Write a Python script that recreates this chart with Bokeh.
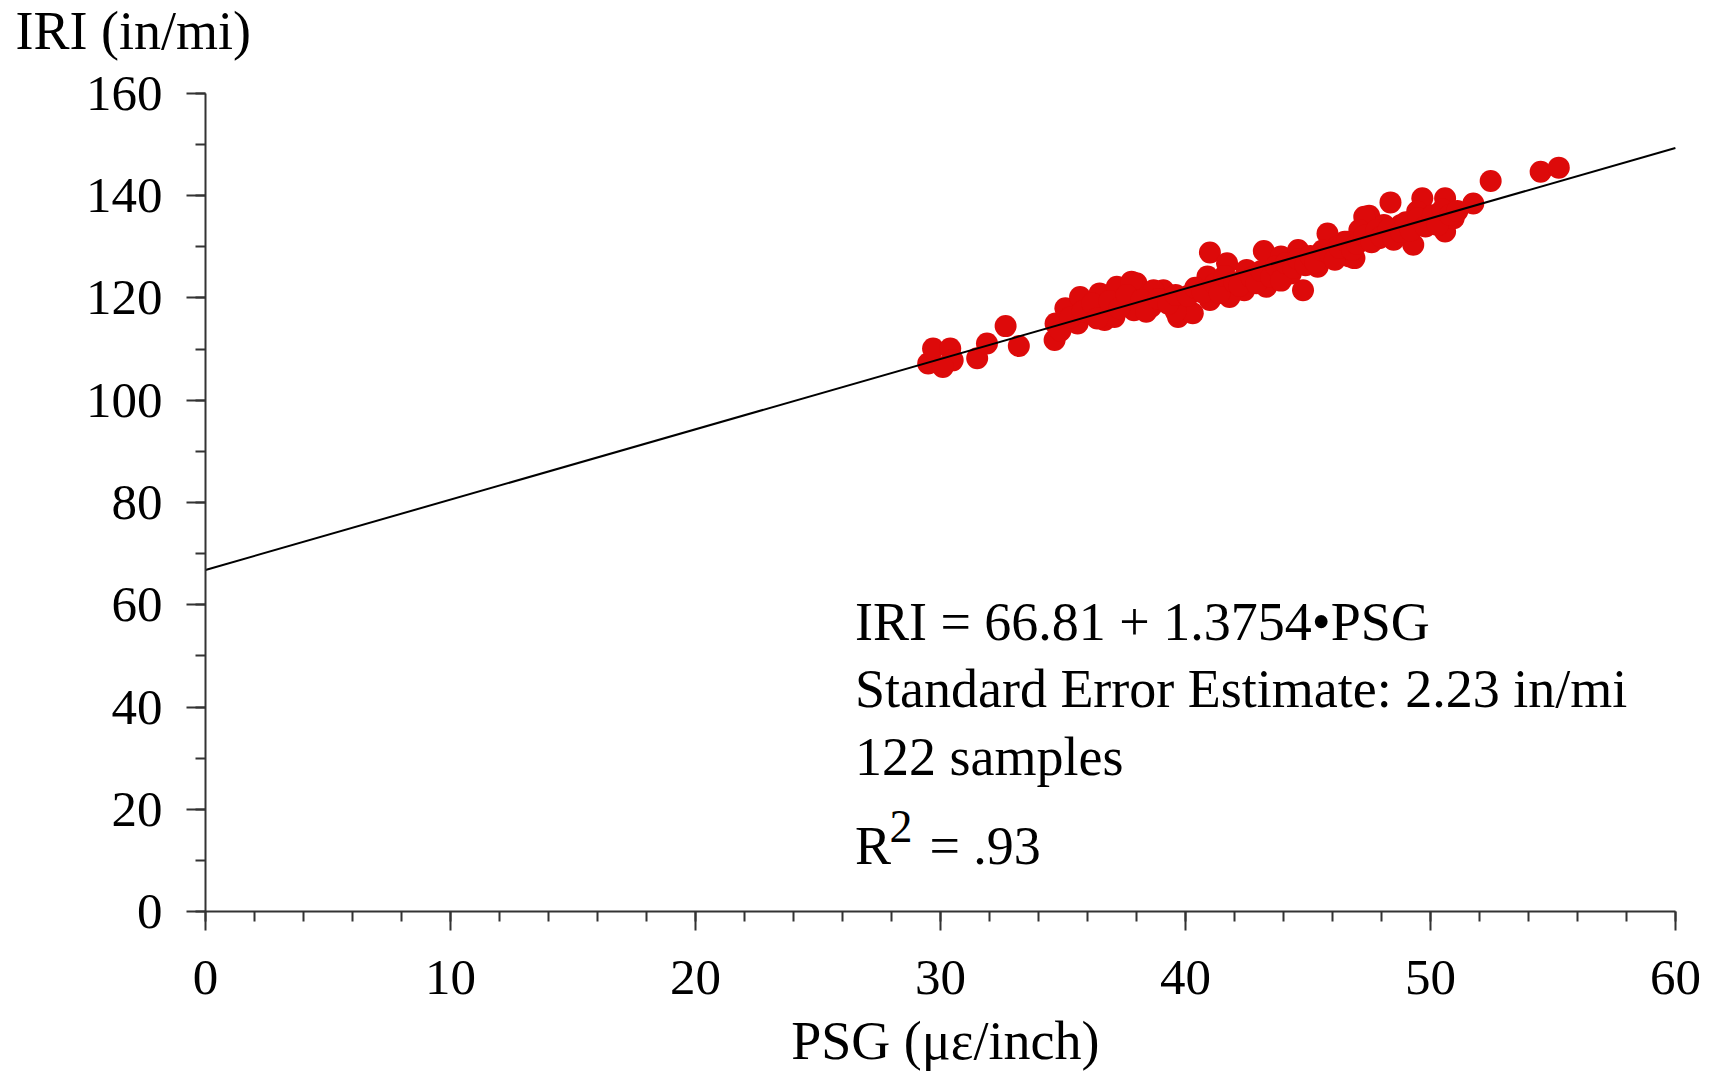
from bokeh.plotting import figure
from bokeh.models import Range1d, FixedTicker, Label
from bokeh.embed import file_html
from bokeh.resources import INLINE

# ---- data ----
psg = [52.46, 54.5, 55.24, 51.75, 50.6, 49.67, 48.37, 47.5, 50.6, 49.3,
       46.9, 50.95, 48.8, 47.9, 46.5, 50.0, 49.46, 48.1,
       41.0, 43.2, 45.8, 47.3, 46.7, 44.8, 43.9, 44.6, 45.4, 43.3,
       42.4, 41.7, 41.8, 40.9, 41.0, 39.9, 39.7, 39.1, 38.0, 38.6,
       40.3, 42.5, 44.3, 46.2, 47.1,
       29.5, 29.7, 30.4, 30.5, 30.1, 31.5, 31.9, 32.66, 33.2, 34.66,
       34.7, 35.1, 35.7, 35.6, 36.7, 36.5, 37.2, 37.8, 37.1, 37.9, 36.1,
       38.7, 39.6,
       34.9, 35.3, 35.8, 36.2, 36.4, 36.9, 37.3, 37.6, 38.2, 38.4,
       38.9, 39.3, 39.6, 40.1, 40.4, 40.7, 41.2, 41.4, 41.6, 42.0,
       42.2, 42.7, 42.9, 43.1, 43.5, 43.7, 43.9, 44.1, 44.4, 44.6,
       44.9, 45.1, 45.3, 45.6, 45.9, 46.1, 46.3, 46.6, 46.8, 47.0,
       47.3, 47.6, 47.8, 48.0, 48.3, 48.5, 48.8, 49.0, 49.2, 49.5,
       49.8, 50.1, 50.3, 50.5, 50.8, 51.1]
iri = [142.9, 144.7, 145.5, 138.5, 139.5, 139.5, 138.7, 136.1, 133.0, 130.4,
       127.8, 135.6, 134.3, 131.7, 131.0, 134.9, 136.9, 134.3,
       128.9, 129.2, 132.6, 135.9, 128.1, 121.5, 128.1, 129.4, 126.1, 122.2,
       121.5, 126.8, 120.2, 124.2, 119.6, 118.3, 116.3, 121.5, 122.9, 118.3,
       117.0, 125.5, 124.8, 130.0, 133.3,
       107.2, 110.1, 110.1, 107.8, 106.5, 108.2, 111.1, 114.5, 110.6, 111.8,
       115.0, 118.0, 120.2, 115.0, 115.7, 120.9, 122.2, 123.2, 116.3, 117.6, 117.0,
       121.5, 117.4,
       113.6, 116.2, 117.4, 118.9, 116.0, 119.4, 118.0, 120.6, 119.6, 117.3,
       119.8, 118.9, 120.6, 120.4, 122.0, 121.1, 122.7, 121.0, 124.3, 123.1,
       122.4, 124.0, 122.9, 125.3, 124.1, 126.2, 123.4, 126.8, 125.9, 127.6,
       126.4, 128.2, 127.0, 129.3, 128.6, 127.5, 129.8, 131.0, 129.4, 130.6,
       132.2, 130.9, 133.3, 132.0, 133.5, 131.4, 132.9, 134.8, 133.2, 135.6,
       134.0, 136.2, 134.3, 137.3, 136.3, 137.0]

intercept = 66.81
slope = 1.3754
fit_x = [0, 60]

x_ticks = [0, 10, 20, 30, 40, 50, 60]
y_ticks = [0, 20, 40, 60, 80, 100, 120, 140, 160]
x_minor = list(range(0, 61, 2))
y_minor = list(range(0, 161, 10))

y_title = "IRI (in/mi)"
x_title = "PSG (με/inch)"
eq_lines = ["IRI = 66.81 + 1.3754\u2022PSG",
            "Standard Error Estimate: 2.23 in/mi",
            "122 samples"]
r2_text = "= .93"

FONT = "Liberation Serif"
AX = "#333333"

# The frame covers the whole canvas so that the titles (drawn as labels) are not clipped;
# the axes are pinned at 0 with fixed_location and limited with bounds.
p = figure(width=1711, height=1079,
           x_range=Range1d(-8.367, 61.474), y_range=Range1d(-32.86, 178.19),
           output_backend="svg", toolbar_location=None,
           min_border_left=0, min_border_right=0,
           min_border_top=0, min_border_bottom=0)
p.grid.visible = False
p.outline_line_color = None
p.background_fill_color = "white"
p.border_fill_color = "white"

p.scatter(psg, iri, size=22, fill_color="#DD0A0A", line_color=None)
p.line(fit_x, [intercept + slope * v for v in fit_x], line_color="black", line_width=2)

for ax, ticks, minor in ((p.xaxis[0], x_ticks, x_minor), (p.yaxis[0], y_ticks, y_minor)):
    ax.ticker = FixedTicker(ticks=ticks, minor_ticks=minor)
    ax.axis_line_color = AX
    ax.axis_line_width = 2
    ax.major_tick_line_color = AX
    ax.major_tick_line_width = 2
    ax.minor_tick_line_color = AX
    ax.minor_tick_line_width = 2
    ax.major_tick_out = 19
    ax.major_tick_in = 0
    ax.minor_tick_out = 10
    ax.minor_tick_in = 0
    ax.major_label_text_font = FONT
    ax.major_label_text_font_size = "51px"
    ax.major_label_text_color = "black"
    ax.fixed_location = 0

p.xaxis.bounds = (0, 60)
p.yaxis.bounds = (0, 160)
p.yaxis.major_label_standoff = 24
p.xaxis.major_label_standoff = 30

def lab(x, y, text, size="54px", align="left"):
    p.add_layout(Label(x=x, y=y, text=text, text_font=FONT, text_font_size=size,
                       text_color="black", text_baseline="alphabetic", text_align=align))

lab(-7.755, 172.2, y_title)
lab(30.2, -25.4, x_title, align="center")
for t, yy in zip(eq_lines, [56.7, 43.5, 30.2]):
    lab(26.51, yy, t)
lab(26.51, 12.8, "R")
lab(27.92, 16.6, "2", "46px")
lab(29.55, 12.8, r2_text)

open("out.html", "w").write(file_html(p, INLINE))
